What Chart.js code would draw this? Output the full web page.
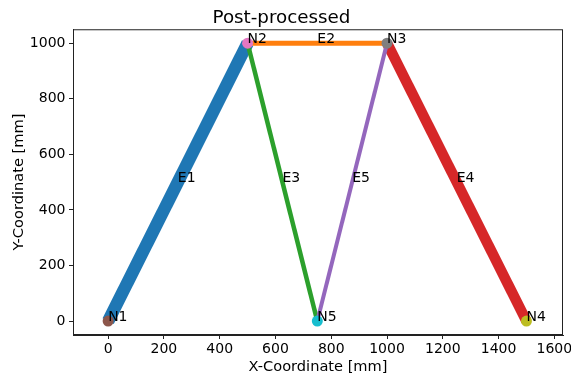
<!DOCTYPE html>
<html>
<head>
<meta charset="utf-8">
<script src="https://cdn.jsdelivr.net/npm/chart.js@4/dist/chart.umd.min.js"></script>
<style>
  html, body { margin: 0; padding: 0; background: #fff; }
  canvas { display: block; }
</style>
</head>
<body>
<canvas id="trussChart" width="571" height="377"></canvas>
<script>
// nodes of the truss
const nodeNames = ["N1", "N2", "N3", "N4", "N5"];
const nodeX = [0, 500, 1000, 1500, 750];
const nodeY = [0, 1000, 1000, 0, 0];

// members: start node / end node (index into node arrays)
const edgeNames = ["E1", "E2", "E3", "E4", "E5"];
const edgeStart = [0, 1, 1, 2, 4];
const edgeEnd = [1, 2, 4, 3, 2];

const xTicks = [0, 200, 400, 600, 800, 1000, 1200, 1400, 1600];
const yTicks = [0, 200, 400, 600, 800, 1000];

// styles
const EDGE_COLORS = ["#1f77b4", "#ff7f0e", "#2ca02c", "#d62728", "#9467bd"];
const EDGE_WIDTHS = [12.5, 5, 4.5, 10.5, 4];
const NODE_COLORS = ["#8c564b", "#e377c2", "#7f7f7f", "#bcbd22", "#17becf"];
const FONT = "DejaVu Sans";

const datasets = [];

nodeNames.forEach((name, i) => {
    datasets.push({
        label: name,
        data: [{ x: nodeX[i], y: nodeY[i] }],
        backgroundColor: NODE_COLORS[i],
        borderWidth: 0,
        pointRadius: 5.5,
        order: 0
    });
});

edgeNames.forEach((name, i) => {
    const a = edgeStart[i], b = edgeEnd[i];
    datasets.push({
        label: name,
        data: [{ x: nodeX[a], y: nodeY[a] }, { x: nodeX[b], y: nodeY[b] }],
        showLine: true,
        borderColor: EDGE_COLORS[i],
        borderWidth: EDGE_WIDTHS[i],
        borderCapStyle: "butt",
        pointRadius: 0,
        order: 10 - i
    });
});

// frame + node/member labels
const annotate = {
    id: "annotate",
    afterDraw(chart) {
        const { ctx, chartArea, scales } = chart;
        const sx = scales.x, sy = scales.y;
        ctx.save();
        ctx.strokeStyle = "#222";
        ctx.lineWidth = 1;
        ctx.strokeRect(chartArea.left + 0.5, chartArea.top + 0.5,
            chartArea.right - chartArea.left - 1, chartArea.bottom - chartArea.top - 1);

        ctx.fillStyle = "#000";
        ctx.font = "14px '" + FONT + "'";
        ctx.textAlign = "left";
        ctx.textBaseline = "alphabetic";
        nodeNames.forEach((name, i) => {
            ctx.fillText(name, sx.getPixelForValue(nodeX[i]), sy.getPixelForValue(nodeY[i]));
        });
        edgeNames.forEach((name, i) => {
            const a = edgeStart[i], b = edgeEnd[i];
            const mx = (nodeX[a] + nodeX[b]) / 2;
            const my = (nodeY[a] + nodeY[b]) / 2;
            ctx.fillText(name, sx.getPixelForValue(mx), sy.getPixelForValue(my));
        });
        ctx.restore();
    }
};

const tickFont = { family: FONT, size: 14 };
const plainNumber = (v) => String(v);

new Chart(document.getElementById("trussChart"), {
    type: "scatter",
    data: { datasets },
    options: {
        responsive: false,
        animation: false,
        layout: { padding: { top: 0, left: 0, right: 8, bottom: 0 } },
        plugins: {
            legend: { display: false },
            tooltip: { enabled: false },
            title: {
                display: true,
                text: "Post-processed",
                color: "#000",
                font: { family: FONT, size: 18.3, weight: "normal" },
                padding: { top: 7, bottom: 0.3 }
            }
        },
        scales: {
            x: {
                type: "linear",
                min: -126,
                max: 1631,
                afterBuildTicks: (s) => { s.ticks = xTicks.map(v => ({ value: v })); },
                afterFit: (s) => { s.height = 42; s.paddingLeft = 0; s.paddingRight = 0; },
                grid: { drawOnChartArea: false, drawTicks: true, tickLength: 4, color: "#222" },
                border: { display: true, color: "#222", width: 1 },
                ticks: { color: "#000", font: tickFont, padding: 2, maxRotation: 0, autoSkip: false, callback: plainNumber },
                title: {
                    display: true,
                    text: "X-Coordinate [mm]",
                    color: "#000",
                    font: { family: FONT, size: 14.6 },
                    padding: { top: 0, bottom: 1.5 }
                }
            },
            y: {
                type: "linear",
                min: -50,
                max: 1050,
                afterBuildTicks: (s) => { s.ticks = yTicks.map(v => ({ value: v })); },
                afterFit: (s) => { s.width = 73; s.paddingTop = 0; s.paddingBottom = 0; },
                grid: { drawOnChartArea: false, drawTicks: true, tickLength: 4, color: "#222" },
                border: { display: true, color: "#222", width: 1 },
                ticks: { color: "#000", font: tickFont, padding: 3.5, autoSkip: false, callback: plainNumber },
                title: {
                    display: true,
                    text: "Y-Coordinate [mm]",
                    color: "#000",
                    font: { family: FONT, size: 14.6 },
                    padding: { top: 10, bottom: 0 }
                }
            }
        }
    },
    plugins: [annotate]
});
</script>
</body>
</html>
